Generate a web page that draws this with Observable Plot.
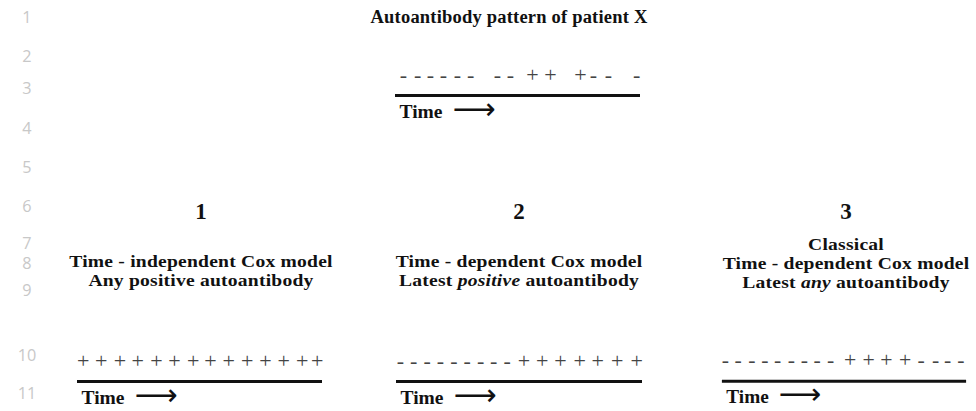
<!DOCTYPE html>
<html>
<head>
<meta charset="utf-8">
<script src="https://cdn.jsdelivr.net/npm/d3@7"></script>
<script src="https://cdn.jsdelivr.net/npm/@observablehq/plot@0.6"></script>
<style>
  html, body { margin: 0; padding: 0; background: #fff; }
  #page { position: relative; width: 976px; height: 411px; overflow: hidden; background: #fff; }
  .ln { position: absolute; text-align: center; font-family: "Open Sans", sans-serif; font-size: 14.5px; color: #c8c8c8; line-height: 16px; height: 16px; transform: scale(1.12); }
  .ttl { position: absolute; text-align: center; font-family: "Liberation Serif", serif; font-weight: bold; font-size: 17px; letter-spacing: 0.2px; line-height: 16px; height: 16px; color: #111; white-space: nowrap; transform: scaleX(1.15); transform-origin: 50% 50%; }
  .main { font-size: 18.5px; transform: none; }
  .num { position: absolute; text-align: center; font-family: "Liberation Serif", serif; font-weight: bold; font-size: 23px; line-height: 24px; color: #111; }
  .tl { position: absolute; }
</style>
</head>
<body>
<div id="page"></div>
<script>
// ---- data ----
const lineNumbers = ["1","2","3","4","5","6","7","8","9","10","11"];
const mainTitle = "Autoantibody pattern of patient X";
const panelNumbers = ["1", "2", "3"];
const panelTitles = [
  ["Time - independent Cox model", "Any positive autoantibody"],
  ["Time - dependent Cox model", "Latest <i>positive</i> autoantibody"],
  ["Classical", "Time - dependent Cox model", "Latest <i>any</i> autoantibody"]
];
const axisLabel = "Time";
const arrowGlyph = "\u27F6";

// patient pattern (time in % of follow-up)
const patientTimes = [2.9, 8.7, 14, 19.4, 25.2, 30.6, 41.7, 47.1, 56.2, 63.6, 76, 81.4, 87.6, 99.2];
const patientSigns = ["-","-","-","-","-","-","-","-","+","+","+","-","-","-"];

// model 1: time-independent
const m1Times = [1.9, 9.4, 17.1, 24.5, 32.2, 39.7, 47.4, 54.5, 62.1, 69.7, 77.3, 84.8, 92.4, 98.6];
const m1Signs = ["+","+","+","+","+","+","+","+","+","+","+","+","+","+"];

// model 2: latest positive
const m2Times = [1.2, 6.7, 12.2, 17.7, 23.2, 28.7, 34.2, 39.6, 45.1, 52, 59.5, 67.1, 75, 82.4, 90.4, 98.4];
const m2Signs = ["-","-","-","-","-","-","-","-","-","+","+","+","+","+","+","+"];

// model 3: latest any
const m3Times = [0.8, 6.1, 11.8, 17.2, 22.5, 28.2, 33.6, 38.9, 44.5, 52.5, 60.2, 67.6, 75.3, 82, 88, 93, 98.4];
const m3Signs = ["-","-","-","-","-","-","-","-","-","+","+","+","+","-","-","-","-"];

// ---- layout (page pixels) ----
const lineNumberY = [17, 56, 88, 128, 167, 206, 243, 263, 290, 355, 393];
const timelines = [
  {times: patientTimes, signs: patientSigns, x0: 396, x1: 638, lineY: 95},
  {times: m1Times, signs: m1Signs, x0: 78, x1: 320, lineY: 381},
  {times: m2Times, signs: m2Signs, x0: 397, x1: 640, lineY: 381},
  {times: m3Times, signs: m3Signs, x0: 723, x1: 967, lineY: 381}
];
const panelCenters = [201, 519, 846];
const titleFirstY = [262, 262, 245];
const titleStep = 19;

const page = document.getElementById("page");

function addText(cls, html, left, width, centerY) {
  const d = document.createElement("div");
  d.className = cls;
  d.innerHTML = html;
  d.style.left = left + "px";
  d.style.width = width + "px";
  d.style.top = (centerY - 8) + "px";
  page.appendChild(d);
  return d;
}

// line numbers
lineNumbers.forEach((t, i) => addText("ln", t, 7, 40, lineNumberY[i]));

// main title
addText("ttl main", mainTitle, 309, 400, 17);

// panel numbers and titles
panelNumbers.forEach((t, i) => {
  const d = document.createElement("div");
  d.className = "num";
  d.textContent = t;
  d.style.left = (panelCenters[i] - 50) + "px"; d.style.width = "100px";
  d.style.top = "200px";
  page.appendChild(d);
  panelTitles[i].forEach((line, j) => {
    addText("ttl", line, panelCenters[i] - 150, 300, titleFirstY[i] + j * titleStep);
  });
});

// timelines drawn with Plot
const pad = 12, mBottom = 30, h = 58;
timelines.forEach(tl => {
  const w = (tl.x1 - tl.x0) + 2 * pad;
  const idx = d3.range(tl.times.length);
  const chart = Plot.plot({
    width: w, height: h,
    marginLeft: pad, marginRight: pad, marginTop: 0, marginBottom: mBottom,
    x: {domain: [0, 100], axis: null},
    style: {fontFamily: "Liberation Serif", background: "transparent", overflow: "visible"},
    marks: [
      Plot.frame({anchor: "bottom", stroke: "#111", strokeWidth: 3}),
      Plot.text(idx, {x: i => tl.times[i], text: i => tl.signs[i], frameAnchor: "bottom", dy: -14,
        fontSize: 22, fill: "#444"}),
      Plot.text([axisLabel], {frameAnchor: "bottom-left", dy: 22, dx: 3, textAnchor: "start",
        fontSize: 19.5, fontWeight: "bold", fill: "#111"}),
      Plot.text([arrowGlyph], {frameAnchor: "bottom-left", dy: 23, dx: 56, textAnchor: "start",
        fontSize: 30, fontFamily: "DejaVu Sans", fill: "#111"})
    ]
  });
  const d = document.createElement("div");
  d.className = "tl";
  d.style.left = (tl.x0 - pad) + "px";
  d.style.top = (tl.lineY - (h - mBottom)) + "px";
  d.appendChild(chart);
  page.appendChild(d);
});
</script>
</body>
</html>
